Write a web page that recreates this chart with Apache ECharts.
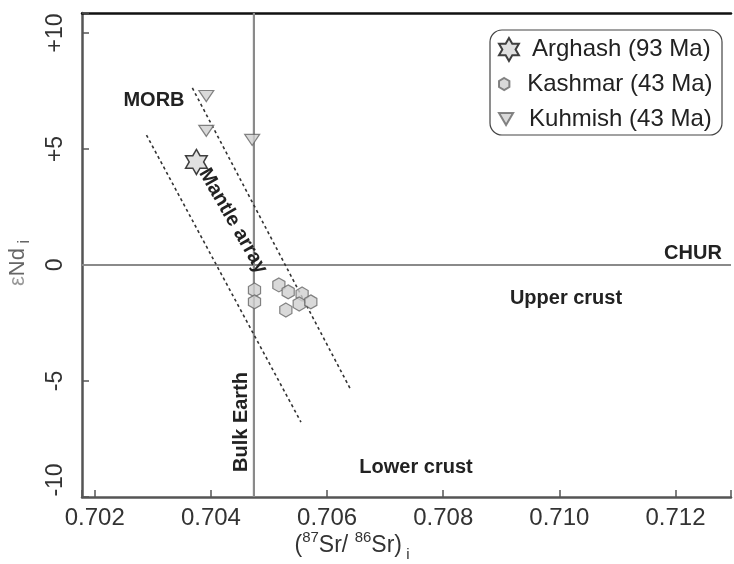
<!DOCTYPE html>
<html><head><meta charset="utf-8">
<script src="https://cdn.jsdelivr.net/npm/echarts@6/dist/echarts.min.js"></script>
<style>html,body{margin:0;padding:0;background:#fff}#c{width:734px;height:564px}</style>
</head><body><div id="c"></div>
<script>
// ---- data ----
const xTicks = [0.702, 0.704, 0.706, 0.708, 0.710, 0.712];
const yTicks = [-10, -5, 0, 5, 10];
const yTickLabels = ['-10', '-5', '0', '+5', '+10'];

const arghashSr = [0.70375];
const arghashNd = [4.44];

const kashmarSr = [0.70475, 0.70475, 0.70517, 0.70533, 0.70557, 0.70552, 0.70572, 0.70529];
const kashmarNd = [-1.08, -1.59, -0.86, -1.16, -1.25, -1.68, -1.59, -1.94];

const kuhmishSr = [0.70392, 0.70392, 0.70471];
const kuhmishNd = [7.28, 5.78, 5.39];

const mantleLowerSr = [0.70289, 0.70555];
const mantleLowerNd = [5.60, -6.77];
const mantleUpperSr = [0.70368, 0.70641];
const mantleUpperNd = [7.63, -5.39];

const bulkEarthSr = 0.70474;
const churNd = 0;

const seriesNames = ['Arghash (93 Ma)', 'Kashmar (43 Ma)', 'Kuhmish (43 Ma)'];

// ---- chart ----
const FONT = '"Liberation Sans", Arial, sans-serif';
const zip = (a, b) => a.map((v, i) => [v, b[i]]);
const starPath = 'path://M0,-10L2.887,-5L8.66,-5L5.77,0L8.66,5L2.887,5L0,10L-2.887,5L-8.66,5L-5.77,0L-8.66,-5L-2.887,-5Z';
const hexPath = 'path://M0,-10L8.66,-5L8.66,5L0,10L-8.66,5L-8.66,-5Z';
const triPath = 'path://M-10,-8L10,-8L0,9Z';

const X_MIN = 0.70178, X_MAX = 0.712955, Y_MIN = -10, Y_MAX = 10.86;

const chart = echarts.init(document.getElementById('c'), null, {renderer: 'canvas'});
const axisCol = '#555';
const refLine = {color: '#8a8a8a', width: 2.2, type: 'solid'};

const legendItem = (i, top, h) => ({
  data: [seriesNames[i]], orient: 'vertical', left: 498, top: top,
  padding: 0, itemWidth: 36, itemHeight: h, selectedMode: false,
  textStyle: {fontSize: 24, color: '#222', fontFamily: FONT, lineHeight: 22}
});

chart.setOption({
  animation: false,
  backgroundColor: '#fff',
  textStyle: {fontFamily: FONT},
  grid: {left: 82, top: 13, right: 0, bottom: 67, containLabel: false},
  xAxis: [{
    type: 'value', min: X_MIN, max: X_MAX, splitNumber: 5,
    axisLine: {show: true, onZero: false, lineStyle: {color: axisCol, width: 2.5}},
    axisTick: {show: true, inside: true, length: 7, lineStyle: {color: axisCol, width: 1.5}},
    splitLine: {show: false},
    axisLabel: {
      show: true, margin: 9, color: '#333', fontSize: 24, fontFamily: FONT,
      showMinLabel: true, showMaxLabel: true,
      formatter: v => { const t = xTicks.find(k => Math.abs(k - v) < 1e-7); return t === undefined ? '' : t.toFixed(3); }
    }
  }, {
    type: 'value', position: 'top', min: X_MIN, max: X_MAX,
    axisLine: {show: true, onZero: false, lineStyle: {color: '#111', width: 2.5}},
    axisTick: {show: false}, axisLabel: {show: false}, splitLine: {show: false}
  }],
  yAxis: {
    type: 'value', min: Y_MIN, max: Y_MAX, splitNumber: 4,
    axisLine: {show: true, onZero: false, lineStyle: {color: axisCol, width: 2.5}},
    axisTick: {show: true, inside: true, length: 7, lineStyle: {color: axisCol, width: 1.5}},
    splitLine: {show: false},
    axisLabel: {
      show: true, rotate: 90, margin: 15, color: '#333', fontSize: 23, fontFamily: FONT,
      formatter: v => {
        const i = yTicks.findIndex(k => Math.abs(k - v) < 1e-6);
        if (i < 0) return '';
        return i === 0 ? '{d|' + yTickLabels[i] + '}' : yTickLabels[i];
      },
      rich: {d: {fontSize: 23, color: '#333', fontFamily: FONT, padding: [0, 0, 0, 34]}}
    }
  },
  legend: [legendItem(0, 37, 23), legendItem(1, 72, 12), legendItem(2, 107, 12)],
  series: [
    {type: 'line', data: zip(mantleLowerSr, mantleLowerNd), symbol: 'none', silent: true,
     lineStyle: {color: '#333', width: 1.6, type: [3, 3]}, z: 2},
    {type: 'line', data: zip(mantleUpperSr, mantleUpperNd), symbol: 'none', silent: true,
     lineStyle: {color: '#333', width: 1.6, type: [3, 3]}, z: 2},
    {type: 'line', data: [[bulkEarthSr, Y_MIN], [bulkEarthSr, Y_MAX]], symbol: 'none', silent: true,
     lineStyle: refLine, z: 1},
    {type: 'line', data: [[X_MIN, churNd], [X_MAX, churNd]], symbol: 'none', silent: true,
     lineStyle: refLine, z: 1},
    {name: seriesNames[0], type: 'scatter', data: zip(arghashSr, arghashNd), symbol: starPath,
     symbolSize: 25, symbolKeepAspect: true,
     itemStyle: {color: '#d8d8d8', borderColor: '#111', borderWidth: 1.5}, z: 5},
    {name: seriesNames[1], type: 'scatter', data: zip(kashmarSr, kashmarNd), symbol: hexPath,
     symbolSize: 14, symbolKeepAspect: true,
     itemStyle: {color: '#cfcfcf', borderColor: '#666', borderWidth: 1.2}, z: 5},
    {name: seriesNames[2], type: 'scatter', data: zip(kuhmishSr, kuhmishNd), symbol: triPath,
     symbolSize: [15, 13], symbolKeepAspect: true,
     itemStyle: {color: '#cfcfcf', borderColor: '#666', borderWidth: 1.2}, z: 5}
  ]
});

const bold = (text, x, y, rot) => ({
  type: 'text', x: x, y: y, rotation: rot || 0, z: 20,
  style: {text: text, fill: '#222', font: 'bold 20px ' + FONT, align: 'center', verticalAlign: 'middle'}
});

chart.setOption({
  graphic: [
    {type: 'rect', shape: {x: 490, y: 30, width: 232, height: 105, r: 12}, z: 30,
     style: {fill: 'none', stroke: '#444', lineWidth: 1.2}},
    bold('MORB', 154, 100),
    bold('Mantle array', 233, 221, -60 * Math.PI / 180),
    bold('CHUR', 693, 253),
    bold('Upper crust', 566, 298),
    bold('Lower crust', 416, 467),
    bold('Bulk Earth', 241, 422, Math.PI / 2),
    {type: 'text', x: 18, y: 263, rotation: Math.PI / 2, z: 20,
     style: {text: '{e|ε}{n|Nd}{s| i}', align: 'center', verticalAlign: 'middle',
       rich: {e: {fontSize: 22, fill: '#999', fontFamily: FONT, lineHeight: 30, verticalAlign: 'middle'},
              n: {fontSize: 22, fill: '#666', fontFamily: FONT, lineHeight: 30, verticalAlign: 'middle'},
              s: {fontSize: 16, fill: '#666', fontFamily: FONT, lineHeight: 30, verticalAlign: 'bottom'}}}},
    {type: 'text', x: 352, y: 546, z: 20,
     style: {text: '{n|(}{s|87}{n|Sr/ }{s|86}{n|Sr)}{b| i}', align: 'center', verticalAlign: 'middle',
       rich: {n: {fontSize: 23, fill: '#333', fontFamily: FONT, lineHeight: 32, verticalAlign: 'middle'},
              s: {fontSize: 15, fill: '#333', fontFamily: FONT, lineHeight: 32, verticalAlign: 'top'},
              b: {fontSize: 15, fill: '#333', fontFamily: FONT, lineHeight: 32, verticalAlign: 'bottom'}}}}
  ]
});
</script></body></html>
